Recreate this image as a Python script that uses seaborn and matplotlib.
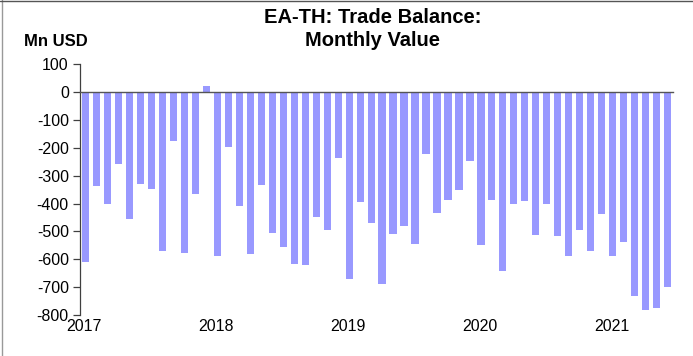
import numpy as np
import pandas as pd
import matplotlib
matplotlib.use("Agg")
import matplotlib.pyplot as plt
import seaborn as sns
from matplotlib.lines import Line2D

# monthly trade balance, Jan 2017 - Jun 2021 (Mn USD)
months = pd.date_range("2017-01-01", "2021-06-01", freq="MS").strftime("%Y-%m").tolist()
values = [
    -611, -336, -402, -260, -457, -329, -348, -569, -175, -576, -367, 21,
    -590, -198, -410, -582, -332, -504, -556, -617, -620, -450, -494, -236,
    -669, -396, -469, -690, -511, -480, -546, -224, -433, -389, -350, -248,
    -550, -386, -642, -402, -392, -513, -402, -518, -589, -495, -570, -439,
    -590, -539, -732, -783, -776, -699,
]
year_labels = ["2017", "2018", "2019", "2020", "2021"]
y_ticks = list(range(-800, 101, 100))

df = pd.DataFrame({"month": months, "value": values})

sns.set_style("white")
plt.rcParams["font.family"] = ["Liberation Sans", "DejaVu Sans"]
plt.rcParams["text.color"] = "black"
plt.rcParams["ytick.labelcolor"] = "black"

fig = plt.figure(figsize=(6.93, 3.56), dpi=100)
ax = fig.add_axes([0.1154, 0.115, 0.856, 0.705])

sns.barplot(data=df, x="month", y="value", color="#9999FF", saturation=1,
            width=0.65, linewidth=0, ax=ax)

ax.set_xlim(-0.5, len(months) - 0.5)
ax.set_ylim(-800, 100)
ax.set_yticks(y_ticks)
ax.set_yticklabels([str(t) for t in y_ticks], fontsize=11.5, color="black")
ax.set_xlabel("")
ax.set_ylabel("")

for s in ["top", "right"]:
    ax.spines[s].set_visible(False)
ax.spines["left"].set_color("#404040")
ax.spines["left"].set_linewidth(0.9)
ax.spines["bottom"].set_position(("data", 0))
ax.spines["bottom"].set_color("#555555")
ax.spines["bottom"].set_linewidth(1.0)

year_pos = [i * 12 - 0.5 for i in range(len(year_labels))]
ax.set_xticks(year_pos)
ax.set_xticklabels([])
ax.tick_params(axis="x", direction="out", length=4, width=1, color="#555555")
ax.tick_params(axis="y", direction="out", length=5, width=0.9, color="#404040",
               pad=3, left=True)

for p, lab in zip(year_pos, year_labels):
    ax.text(p + 0.4, -815, lab, ha="center", va="top", fontsize=11.5,
            color="black")

fig.text(0.5375, 0.978, "EA-TH: Trade Balance:\nMonthly Value", ha="center",
         va="top", fontsize=14.5, fontweight="bold", linespacing=1.3,
         color="black")
fig.text(0.034, 0.884, "Mn USD", ha="left", va="center", fontsize=12,
         fontweight="bold", color="black")

# frame edges of the cropped screenshot
fig.add_artist(Line2D([0.003, 0.003], [0, 1], transform=fig.transFigure,
                      color="#999999", lw=1))
fig.add_artist(Line2D([0, 1], [0.997, 0.997], transform=fig.transFigure,
                      color="#555555", lw=1))

fig.savefig("out.png", dpi=100)
